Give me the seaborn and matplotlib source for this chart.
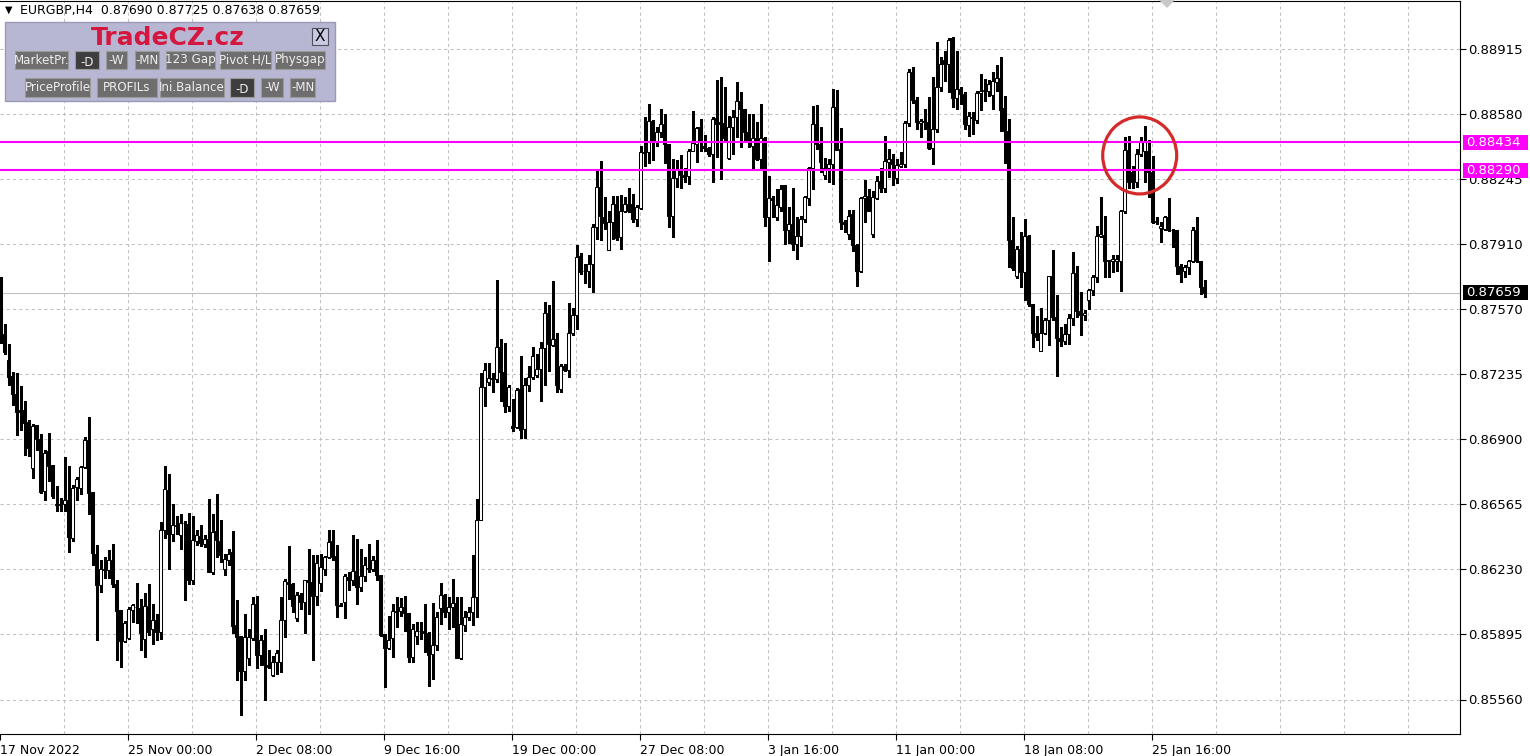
import numpy as np
import pandas as pd
import matplotlib
matplotlib.use("Agg")
import matplotlib.pyplot as plt
from matplotlib.patches import Rectangle, Ellipse, Polygon
import seaborn as sns

# ---------------- data (prices in 1e-5 units) ----------------
OPEN = [
87730,87446,87309,87226,87137,87051,87051,86991,86756,86974,
86905,86633,86840,86767,86567,86567,86567,86587,86393,86654,
86651,86760,86898,86630,86312,86152,86232,86230,86281,86158,
86020,85862,85878,86024,86037,86034,85874,86041,85922,85969,
85908,86436,86642,86415,86458,86407,86472,86463,86178,86378,
86403,86364,86390,86218,86427,86376,86235,86278,86321,85943,
85886,85708,85776,85879,86055,85792,85869,85737,85685,85754,
85754,85969,86166,86158,85982,86098,86063,86175,86166,86094,
86161,86235,86295,86376,86299,86049,86063,86192,86178,86221,
86141,86196,86235,86235,86278,86201,85897,85828,85879,86012,
86015,86036,86006,85780,85888,85915,85912,85901,85794,85843,
86033,86100,86009,86036,86060,85774,85942,85984,86009,86087,
86488,87171,87195,87216,87213,87379,87249,87072,86972,86963,
87162,86954,87180,87225,87234,87267,87375,87551,87388,87420,
87162,87279,87261,87448,87542,87845,87771,87771,87807,87996,
88205,88051,87879,88022,88113,87944,88078,88116,88113,88039,
88096,88386,88382,88546,88443,88486,88528,88425,88056,88250,
88294,88267,88262,88391,88425,88515,88417,88405,88374,88559,
88537,88532,88353,88511,88563,88645,88606,88486,88417,88456,
88348,88456,88051,88147,88047,88099,88211,87982,88010,87910,
87948,88039,88145,88300,88528,88425,88265,88300,88322,88614,
88400,88025,87962,88065,87905,87772,88145,88156,87962,88145,
88236,88197,88331,88348,88249,88313,88322,88534,88795,88654,
88534,88546,88540,88403,88503,88717,88860,88838,88970,88661,
88709,88683,88524,88563,88550,88687,88697,88700,88678,88743,
88766,88611,88494,87931,87742,87884,87764,87953,87601,87450,
87357,87450,87518,87742,87532,87425,87408,87446,87529,87760,
87563,87541,87618,87673,87738,87953,87958,87820,87820,87820,
87820,88078,88394,88280,88231,88374,88388,88391,88283,88022,
87990,87987,88047,87982,87979,87798,87769,87790,87824,87982,
87824,87690]
HIGH = [
87740,87498,87391,87248,87245,87175,87097,87000,86979,86977,
86931,86845,86934,86772,86659,86600,86813,86762,86664,86705,
86762,86912,87015,86630,86355,86278,86295,86330,86360,86175,
86024,85965,86037,86055,86162,86080,86110,86158,86051,86003,
86476,86762,86721,86570,86505,86518,86480,86522,86505,86432,
86462,86407,86596,86518,86622,86484,86312,86338,86429,86075,
85886,86000,85926,86089,86092,85891,85926,85814,85783,85814,
86089,86183,86350,86161,86115,86110,86178,86338,86304,86307,
86312,86299,86436,86436,86355,86058,86209,86218,86407,86390,
86338,86295,86360,86299,86381,86201,85897,85989,86055,86089,
86086,86096,86006,85948,85960,85960,86051,85906,86060,86009,
86159,86105,86087,86183,86087,86087,86015,86036,86304,86593,
87243,87298,87298,87243,87722,87420,87397,87184,87111,87166,
87334,87220,87279,87379,87343,87406,87610,87596,87719,87451,
87289,87292,87605,87578,87903,87863,87804,87852,88011,88291,
88339,88151,88082,88159,88159,88164,88151,88199,88168,88108,
88417,88563,88632,88549,88511,88606,88580,88425,88348,88343,
88370,88302,88400,88597,88511,88554,88473,88412,88563,88755,
88772,88721,88571,88601,88743,88692,88606,88580,88580,88537,
88632,88460,88262,88159,88193,88211,88211,88099,88199,88047,
88056,88159,88306,88623,88628,88511,88352,88348,88709,88705,
88506,88035,88087,88087,87910,88150,88241,88193,88185,88262,
88300,88468,88400,88374,88348,88383,88546,88812,88820,88666,
88554,88606,88666,88769,88953,88872,88906,88970,88975,88906,
88717,88692,88592,88592,88700,88786,88760,88757,88795,88830,
88875,88674,88554,88047,87901,87970,88039,87958,87601,87536,
87580,87529,87742,87876,87644,87481,87498,87549,87867,87798,
87661,87567,87678,87747,88004,88151,88056,87827,87850,87855,
88085,88460,88468,88314,88400,88460,88520,88446,88365,88047,
88022,88056,88147,87987,87979,87807,87803,87827,87999,88047,
87824,87725]
LOW = [
87400,87343,87180,87077,86922,86948,86819,86815,86704,86845,
86625,86591,86687,86600,86532,86532,86532,86321,86377,86590,
86621,86754,86516,86252,85869,86115,86189,86185,86140,85763,
85726,85857,85874,85960,85955,85814,85780,85891,85848,85869,
85874,86393,86235,86378,86415,86338,86073,86158,86158,86355,
86350,86347,86218,86209,86295,86269,86201,86252,85905,85659,
85479,85659,85737,85866,85720,85737,85560,85720,85680,85694,
85702,85883,86080,86012,85965,86029,85903,86000,85766,86046,
86120,86201,86292,86281,85986,86043,85982,86123,86149,86051,
86120,86172,86218,86223,86175,85886,85625,85823,85780,85934,
85990,85915,85752,85752,85846,85870,85807,85630,85666,85816,
85951,85987,85924,85933,85774,85771,85912,85969,85942,85987,
86488,87072,87180,87144,87198,87099,87045,87050,86945,86960,
86909,86909,87153,87213,87225,87099,87184,87256,87382,87144,
87144,87256,87225,87442,87469,87755,87708,87686,87664,87936,
87931,87987,87876,87936,87931,87884,88073,88073,88022,88004,
88090,88314,88326,88343,88417,88460,88326,87996,87944,88202,
88199,88228,88219,88388,88331,88391,88391,88365,88228,88357,
88245,88442,88348,88374,88460,88412,88442,88412,88297,88343,
88297,88004,87824,88047,88034,88082,87910,87913,87876,87833,
87901,88021,88108,88193,88400,88279,88242,88228,88219,88396,
87987,87970,87936,87871,87695,87764,88022,88077,87944,88142,
88176,88180,88254,88211,88224,88305,88305,88520,88637,88503,
88460,88503,88400,88322,88489,88700,88752,88692,88614,88606,
88632,88503,88465,88477,88533,88602,88648,88675,88606,88700,
88494,88326,87790,87776,87735,87687,87618,87592,87377,87412,
87357,87446,87386,87515,87226,87381,87395,87395,87494,87532,
87438,87515,87575,87644,87712,87944,87738,87738,87764,87770,
87669,88068,88199,88199,88205,88365,88228,88151,88016,88010,
87919,87979,87975,87893,87755,87712,87738,87752,87815,87815,
87652,87638]
CLOSE = [
87420,87352,87223,87137,87042,87042,86986,86857,86969,86905,
86630,86831,86764,86607,86565,86565,86587,86398,86652,86696,
86759,86898,86625,86316,86152,86232,86230,86281,86154,86017,
85862,85955,86025,86046,86035,85903,86041,85908,85969,85908,
86436,86647,86415,86458,86456,86472,86470,86178,86381,86410,
86367,86390,86218,86424,86381,86307,86287,86312,85940,85883,
85708,85883,85883,86055,85792,85866,85737,85728,85754,85800,
85969,86170,86158,86043,86098,86063,86175,86166,86094,86266,
86244,86295,86372,86295,86049,86043,86196,86178,86221,86141,
86196,86252,86237,86278,86201,85891,85828,85869,86015,86014,
86036,86006,85780,85924,85915,85913,85901,85789,85839,85987,
86100,86009,86036,86060,85774,85948,85987,86009,86087,86488,
87171,87261,87216,87214,87379,87249,87075,87171,86960,87158,
86949,87184,87225,87334,87267,87375,87551,87393,87420,87184,
87279,87261,87448,87542,87840,87764,87769,87807,87996,88205,
88056,88016,88025,88116,87941,88078,88116,88078,88039,88099,
88382,88379,88546,88443,88486,88528,88425,88056,88250,88297,
88265,88254,88391,88429,88508,88443,88405,88374,88554,88528,
88528,88456,88511,88563,88645,88606,88486,88446,88456,88348,
88456,88051,88147,88138,88108,88193,87979,88010,87910,87948,
88039,88150,88300,88528,88425,88331,88300,88322,88614,88396,
88025,88013,88053,87905,87772,88145,88156,88077,88150,88236,
88197,88339,88348,88322,88317,88322,88534,88795,88654,88537,
88546,88537,88403,88503,88717,88838,88838,88963,88661,88709,
88683,88528,88568,88561,88688,88698,88705,88735,88752,88766,
88601,88494,87931,87786,87884,87764,87953,87601,87450,87432,
87450,87518,87742,87532,87425,87408,87446,87529,87760,87563,
87541,87554,87673,87738,87953,87962,87820,87827,87833,87833,
88078,88394,88228,88231,88374,88434,88434,88283,88022,88027,
88000,88047,87979,87979,87798,87755,87790,87824,87982,87824,
87690,87659]
POINT = 1e-5

Y_TICKS = [0.85560, 0.858955, 0.86231, 0.865665, 0.86902, 0.872375,
           0.87573, 0.879085, 0.88244, 0.885795, 0.88915]
Y_TICK_LABELS = ["0.85560", "0.85895", "0.86230", "0.86565", "0.86900", "0.87235",
                 "0.87570", "0.87910", "0.88245", "0.88580", "0.88915"]
X_LABEL_BARS = [0, 32, 64, 96, 128, 160, 192, 224, 256, 288]
X_LABELS = ["17 Nov 2022", "25 Nov 00:00", "2 Dec 08:00", "9 Dec 16:00", "19 Dec 00:00",
            "27 Dec 08:00", "3 Jan 16:00", "11 Jan 00:00", "18 Jan 08:00", "25 Jan 16:00"]
GRID_EVERY = 16
LEVELS = [0.88434, 0.88290]
LEVEL_LABELS = ["0.88434", "0.88290"]
LAST_PRICE = 0.87659
TITLE = "EURGBP,H4  0.87690 0.87725 0.87638 0.87659"
CIRCLE_BAR, CIRCLE_PRICE = 284.8, 0.88366
BUTTONS_ROW1 = ["MarketPr.", "-D", "-W", "-MN", "123 Gap", "Pivot H/L", "Physgap"]
BUTTONS_ROW2 = ["PriceProfile", "PROFILs", "Ini.Balance", "-D", "-W", "-MN"]

assert len(OPEN) == len(HIGH) == len(LOW) == len(CLOSE) == 302

# ---------------- style ----------------
sns.set_theme(style="white")
plt.rcParams['font.family'] = ['DejaVu Sans']
plt.rcParams['text.color'] = 'black'
plt.rcParams['xtick.color'] = 'black'
plt.rcParams['ytick.color'] = 'black'

df = pd.DataFrame({"open": np.array(OPEN) * POINT, "high": np.array(HIGH) * POINT,
                   "low": np.array(LOW) * POINT, "close": np.array(CLOSE) * POINT})
df["bar"] = np.arange(len(df))
df["bottom"] = df[["open", "close"]].min(axis=1)
df["body"] = (df["close"] - df["open"]).abs().clip(lower=1e-6)
df["face"] = np.where(df["close"] >= df["open"], "white", "black")

W, H = 1530, 756
fig = plt.figure(figsize=(W / 100, H / 100), dpi=100)
fig.patch.set_facecolor("white")
ax_top, ax_bot, ax_right = 1, 734, 1460
ax = fig.add_axes([0, (H - ax_bot) / H, ax_right / W, (ax_bot - ax_top) / H])
ax.set_facecolor("white")

# price scale: 0.88915 at pixel 49, 0.85560 at 699.5
k = (Y_TICKS[-1] - Y_TICKS[0]) / (699.5 - 49)
ax.set_ylim(Y_TICKS[0] - (ax_bot - 699.5) * k, Y_TICKS[-1] + (49 - ax_top) * k)
ax.set_xlim(-0.125, (ax_right - 0.5) / 4)

dash = (0, (3, 3))
for y in Y_TICKS:
    ax.axhline(y, color="#c0c0c0", lw=0.75, ls=dash, zorder=0)
for b in range(GRID_EVERY, 365, GRID_EVERY):
    ax.axvline(b - 0.125, color="#c0c0c0", lw=0.75, ls=dash, zorder=0)

ax.axhline(LAST_PRICE, color="#c0c0c0", lw=0.8, zorder=1)

# candles
ax.vlines(df["bar"], df["low"], df["high"], color="black", lw=0.8, zorder=2, antialiased=False)
ax.bar(df["bar"], df["body"], bottom=df["bottom"], width=0.55, color=df["face"],
       edgecolor="black", linewidth=0.75, zorder=3)

for lv in LEVELS:
    ax.axhline(lv, color="#ff00ff", lw=1.5, zorder=4)

ax.add_patch(Ellipse((CIRCLE_BAR, CIRCLE_PRICE), width=18.5, height=77 * k, fill=False,
                     edgecolor="#d42a2a", lw=2.3, zorder=6))

# spines
for s in ["top", "right", "bottom"]:
    ax.spines[s].set_visible(True)
    ax.spines[s].set_color("black")
    ax.spines[s].set_linewidth(0.8)
ax.spines["left"].set_visible(False)

ax.yaxis.tick_right()
ax.set_yticks(Y_TICKS, Y_TICK_LABELS)
ax.tick_params(axis="y", which="both", left=False, right=True, labelleft=False, labelright=True,
               length=4, width=0.8, pad=2, labelsize=9.5, direction="out")
ax.set_xticks([b - 0.125 for b in X_LABEL_BARS], X_LABELS)
ax.tick_params(axis="x", bottom=True, length=4, width=0.8, pad=3, labelsize=9, direction="out")
for lab in ax.get_xticklabels():
    lab.set_horizontalalignment("left")

# price boxes on the right scale
ytr = ax.get_yaxis_transform()
for lv, lab in zip(LEVELS, LEVEL_LABELS):
    ax.add_patch(Rectangle((1463 / ax_right, lv - 7.5 * k), 65 / ax_right, 15 * k, transform=ytr,
                           facecolor="#ff00ff", edgecolor="none", clip_on=False, zorder=10))
    ax.text(1466 / ax_right, lv, lab, transform=ytr, color="white", fontsize=9.5,
            va="center", ha="left", zorder=11, clip_on=False)
ax.add_patch(Rectangle((1463 / ax_right, LAST_PRICE - 7.5 * k), 65 / ax_right, 15 * k, transform=ytr,
                       facecolor="black", edgecolor="none", clip_on=False, zorder=10))
ax.text(1466 / ax_right, LAST_PRICE, f"{LAST_PRICE:.5f}", transform=ytr, color="white", fontsize=9.5,
        va="center", ha="left", zorder=11, clip_on=False)

# ---------------- header & panel (figure pixel coordinates) ----------------
def fx(px):
    return px / W

def fy(py):
    return 1 - py / H

fig.text(fx(5), fy(10), "\u25bc", fontsize=7, va="center", ha="left")
fig.text(fx(20), fy(10.5), TITLE, fontsize=9, va="center", ha="left")

fig.add_artist(Polygon([(fx(1159), fy(0)), (fx(1175), fy(0)), (fx(1167), fy(8))],
                       closed=True, transform=fig.transFigure, facecolor="#c8c8c8", edgecolor="none"))

def box(x0, y0, x1, y1, fc, ec, lw=1.0, z=20):
    r = Rectangle((fx(x0), fy(y1)), (x1 - x0) / W, (y1 - y0) / H, transform=fig.transFigure,
                  facecolor=fc, edgecolor=ec, lw=lw, zorder=z)
    fig.add_artist(r)
    return r

box(5, 22, 335, 101, "#b7b7d4", "#9a9ab8", 1.0, 20)
fig.text(fx(168), fy(38), "TradeCZ.cz", fontsize=18, fontweight="heavy", color="#d5163e",
         ha="center", va="center", zorder=22)
box(312, 28, 328, 45, "#c9c9e2", "#505060", 0.8, 21)
fig.text(fx(320), fy(36.5), "X", fontsize=11, ha="center", va="center", zorder=22)

row1_x = [(15, 68), (75, 99), (106, 127), (135, 159), (166, 215), (220, 271), (275, 325)]
row2_x = [(25, 90), (97, 157), (160, 224), (230, 254), (261, 283), (290, 315)]
dark1 = [False, True, False, False, False, False, False]
dark2 = [False, False, False, True, False, False]
for labels, xs, darks, (ya, yb) in [(BUTTONS_ROW1, row1_x, dark1, (51, 69)),
                                     (BUTTONS_ROW2, row2_x, dark2, (78, 97))]:
    for lab, (xa, xb), dk in zip(labels, xs, darks):
        r = box(xa, ya, xb, yb, "#3e3e3e" if dk else "#6e6e6e", "#9a9a9a", 0.8, 21)
        t = fig.text(fx((xa + xb) / 2), fy((ya + yb) / 2 + (2 if dk else 0)), lab, fontsize=8.6,
                     color="#eeeeee", ha="center", va="center", zorder=22)
        t.set_clip_path(r)

fig.savefig("out.png", dpi=100, facecolor="white")
